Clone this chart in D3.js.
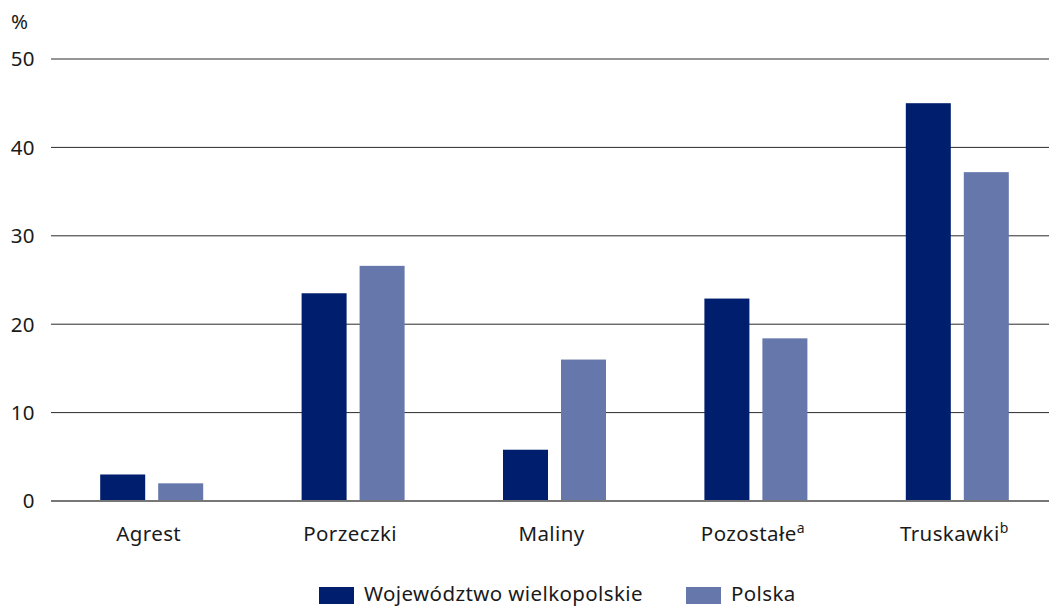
<!DOCTYPE html>
<html>
<head>
<meta charset="utf-8">
<script src="https://cdn.jsdelivr.net/npm/d3@7"></script>
<style>
body { margin: 0; background: #fff; }
text { font-family: "Noto Sans", "Open Sans", sans-serif; fill: #1a1a1a; letter-spacing: 0.4px; }
</style>
</head>
<body>
<svg id="chart"></svg>
<script>
var width = 1049, height = 606;

// data
var categories = ["Agrest", "Porzeczki", "Maliny", "Pozostałe", "Truskawki"];
var superscripts = ["", "", "", "a", "b"];
var wielkopolskie = [3.0, 23.5, 5.8, 22.9, 45.0];
var polska = [2.0, 26.6, 16.0, 18.4, 37.2];
var seriesNames = ["Województwo wielkopolskie", "Polska"];
var yTicks = [0, 10, 20, 30, 40, 50];
var colors = ["#001e6e", "#6677ac"];

var svg = d3.select("#chart")
    .attr("width", width)
    .attr("height", height);

var x = d3.scaleBand()
    .domain(categories)
    .range([51, 1058])
    .paddingInner(0)
    .paddingOuter(0);

var y = d3.scaleLinear()
    .domain([0, 50])
    .range([501, 59]);

var barW = 45, gap = 13;
var fs = 20.5;

// gridlines
svg.append("g").selectAll("line")
    .data(yTicks.filter(function (d) { return d > 0; }))
    .enter().append("line")
    .attr("x1", 51).attr("x2", width)
    .attr("y1", function (d) { return y(d); })
    .attr("y2", function (d) { return y(d); })
    .attr("stroke", "#2b2b2b")
    .attr("stroke-width", 1);

// y tick labels
svg.append("g").selectAll("text")
    .data(yTicks)
    .enter().append("text")
    .attr("x", 35)
    .attr("y", function (d) { return y(d); })
    .attr("dy", "0.36em")
    .attr("text-anchor", "end")
    .attr("font-size", fs)
    .text(function (d) { return d; });

svg.append("text")
    .attr("x", 11).attr("y", 29)
    .attr("font-size", fs)
    .text("%");

// bars
var series = [wielkopolskie, polska];
series.forEach(function (vals, si) {
    svg.append("g").selectAll("rect")
        .data(vals)
        .enter().append("rect")
        .attr("x", function (d, i) {
            var c = x(categories[i]) + x.bandwidth() / 2;
            return si === 0 ? c - gap / 2 - barW : c + gap / 2;
        })
        .attr("y", function (d) { return y(d); })
        .attr("width", barW)
        .attr("height", function (d) { return y(0) - y(d); })
        .attr("fill", colors[si]);
});

// zero line
svg.append("line")
    .attr("x1", 51).attr("x2", width)
    .attr("y1", y(0)).attr("y2", y(0))
    .attr("stroke", "#777")
    .attr("stroke-width", 2);

// x labels
var xl = svg.append("g").selectAll("text")
    .data(categories)
    .enter().append("text")
    .attr("x", function (d) { return x(d) + x.bandwidth() / 2 - 3; })
    .attr("y", 541)
    .attr("text-anchor", "middle")
    .attr("font-size", fs);
xl.append("tspan").text(function (d) { return d; });
xl.append("tspan")
    .attr("font-size", 14)
    .attr("dy", -8)
    .text(function (d, i) { return superscripts[i]; });

// legend
var legendX = [319, 686];
seriesNames.forEach(function (name, i) {
    svg.append("rect")
        .attr("x", legendX[i]).attr("y", 587)
        .attr("width", 35).attr("height", 17)
        .attr("fill", colors[i]);
    svg.append("text")
        .attr("x", legendX[i] + 45).attr("y", 601)
        .attr("font-size", fs)
        .text(name);
});
</script>
</body>
</html>
